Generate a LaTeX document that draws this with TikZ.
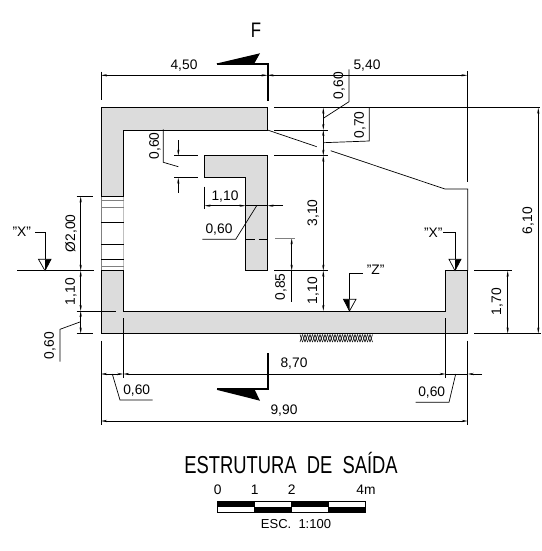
\documentclass[tikz,border=0pt]{standalone}
\usepackage{fontspec}
\setmainfont{Liberation Sans}
\newfontfamily\titlefont[FakeStretch=0.75]{Liberation Sans}
\newfontfamily\markfont[FakeStretch=0.8]{Liberation Sans}
\usetikzlibrary{arrows.meta}
\definecolor{concrete}{HTML}{DCDCDC}

\begin{document}
\begin{tikzpicture}
[every node/.style={inner sep=0pt, font=\fontsize{13.8}{15}\selectfont},
 wall/.style={line width=0.9pt, color=black},
 dim/.style={line width=0.6pt, color=black, {Stealth[length=6pt,width=2.2pt]}-{Stealth[length=6pt,width=2.2pt]}},
 dimend/.style={line width=0.6pt, color=black, -{Stealth[length=6pt,width=2.2pt]}},
 ext/.style={line width=0.7pt, color=black},
 cutline/.style={line width=2pt, color=black},
 turned/.style={rotate=90}]
\useasboundingbox (0pt, 0pt) rectangle (541pt, -551pt);
% concrete
\fill [concrete] (101pt, -107.5pt) -- (267.5pt, -107.5pt) -- (267.5pt, -130pt) -- (123.5pt, -130pt) -- (123.5pt, -196.5pt) -- (101pt, -196.5pt) -- cycle;
\fill [concrete] (101pt, -270.7pt) -- (123.5pt, -270.7pt) -- (123.5pt, -311pt) -- (445.7pt, -311pt) -- (445.7pt, -270.7pt) -- (467.7pt, -270.7pt) -- (467.7pt, -333.5pt) -- (101pt, -333.5pt) -- cycle;
\fill [concrete] (204.7pt, -155.7pt) -- (267.5pt, -155.7pt) -- (267.5pt, -270.7pt) -- (245.5pt, -270.7pt) -- (245.5pt, -177.7pt) -- (204.7pt, -177.7pt) -- cycle;
\draw [line width=0.5pt, color=gray] (101pt, -196.5pt) -- (101pt, -270.7pt);
\draw [line width=0.5pt, color=lightgray] (123.5pt, -196.5pt) -- (123.5pt, -270.7pt);
% walls
\draw [wall] (123.5pt, -196.5pt) -- (123.5pt, -130pt) -- (267.5pt, -130pt) -- (267.5pt, -107.5pt) -- (101pt, -107.5pt) -- (101pt, -196.5pt);
\draw [wall] (123.5pt, -270.7pt) -- (123.5pt, -311pt) -- (445.7pt, -311pt) -- (445.7pt, -270.7pt) -- (467.7pt, -270.7pt) -- (467.7pt, -333.5pt) -- (101pt, -333.5pt) -- (101pt, -270.7pt);
\draw [wall] (204.7pt, -155.7pt) -- (267.5pt, -155.7pt) -- (267.5pt, -270.7pt) -- (245.5pt, -270.7pt) -- (245.5pt, -177.7pt) -- (204.7pt, -177.7pt) -- cycle;
\draw [wall, dash pattern=on 9pt off 4pt] (245.5pt, -239pt) -- (267.5pt, -239pt);
% openings
\foreach \yy in {196.7, 222.3, 244.3, 259, 270.7}
  \draw [wall] (101pt, -\yy pt) -- (123.5pt, -\yy pt);
\foreach \yy in {200, 207.7, 266.7}
  \draw [line width=0.9pt, color=gray] (101pt, -\yy pt) -- (123.5pt, -\yy pt);
% channel lines on the right
\draw [wall] (274pt, -107.7pt) -- (540pt, -107.7pt);
\draw [wall] (274pt, -130pt) -- (327.7pt, -130pt);
\draw [wall] (274pt, -155.7pt) -- (327.7pt, -155.7pt);
\draw [ext] (267.5pt, -130pt) -- (316.7pt, -146.7pt);
\draw [ext] (330.7pt, -150.7pt) -- (445pt, -189pt) -- (467.7pt, -189pt) -- (467.7pt, -270.7pt);
% ground
\foreach \xx in {300, 302.5, ..., 371} {
  \draw [line width=0.6pt] (\xx pt, -342pt) -- (\xx pt + 2.5pt, -334.5pt);
  \draw [line width=0.6pt] (\xx pt, -334.5pt) -- (\xx pt + 2.5pt, -342pt);
}
% top dimensions
\draw [ext] (101pt, -71.7pt) -- (101pt, -100pt);
\draw [dim] (101pt, -75.3pt) -- (267.5pt, -75.3pt);
\draw [dim] (267.5pt, -75.3pt) -- (467.3pt, -75.3pt);
\draw [ext] (467.3pt, -71pt) -- (467.3pt, -181.7pt);
\node (dim450) at (184pt, -65.7pt) {4,50};
\node (dim540) at (367pt, -65.7pt) {5,40};
\draw [ext] (323.3pt, -118.3pt) -- (349pt, -101.7pt) -- (349pt, -69.3pt);
\node (dim060a) [turned] at (339.3pt, -85.7pt) {0,60};
\draw [ext] (323.3pt, -142.7pt) -- (369.3pt, -141pt) -- (369.3pt, -108pt);
\node (dim070) [turned] at (360pt, -125pt) {0,70};
% middle chain
\draw [dim] (323.3pt, -107.7pt) -- (323.3pt, -130pt);
\draw [dim] (323.3pt, -130pt) -- (323.3pt, -155.7pt);
\draw [dim] (323.3pt, -155.7pt) -- (323.3pt, -270.7pt);
\draw [dim] (323.3pt, -270.7pt) -- (323.3pt, -311pt);
\draw [ext] (274pt, -270.7pt) -- (327.7pt, -270.7pt);
\node (dim310) [turned] at (313.3pt, -213pt) {3,10};
\node (dim110a) [turned] at (313.3pt, -290.7pt) {1,10};
% baffle dimensions
\draw [dim] (291.7pt, -238.3pt) -- (291.7pt, -270.7pt);
\draw [ext] (291.7pt, -270.7pt) -- (291.7pt, -301.7pt);
\draw [line width=0.9pt, color=gray] (275pt, -238.3pt) -- (295pt, -238.3pt);
\node (dim085) [turned] at (281pt, -287pt) {0,85};
\draw [dimend] (178.3pt, -140pt) -- (178.3pt, -155.7pt);
\draw [dimend] (178.3pt, -192.7pt) -- (178.3pt, -177.7pt);
\draw [ext] (174pt, -155.7pt) -- (197.7pt, -155.7pt);
\draw [ext] (174pt, -177.7pt) -- (197.7pt, -177.7pt);
\draw [ext] (178.3pt, -166.7pt) -- (163.3pt, -162.3pt) -- (163.3pt, -129.3pt);
\node (dim060b) [turned] at (155pt, -146pt) {0,60};
\draw [ext] (204.5pt, -186.7pt) -- (204.5pt, -209pt);
\draw [dim] (204.5pt, -205.7pt) -- (245.5pt, -205.7pt);
\draw [dimend] (283pt, -205.7pt) -- (267.5pt, -205.7pt);
\draw [ext] (245.5pt, -205.7pt) -- (267.5pt, -205.7pt);
\node (dim110b) at (225pt, -196.7pt) {1,10};
\draw [ext] (256.7pt, -205.7pt) -- (235.7pt, -239.3pt) -- (202.3pt, -239.3pt);
\node (dim060c) at (219pt, -229.3pt) {0,60};
% left dimensions
\draw [dim] (80.7pt, -196.5pt) -- (80.7pt, -270.7pt);
\draw [dim] (80.7pt, -270.7pt) -- (80.7pt, -311pt);
\draw [dim] (80.7pt, -311pt) -- (80.7pt, -333.5pt);
\draw [ext] (76.7pt, -196.5pt) -- (93pt, -196.5pt);
\draw [ext] (17.3pt, -270.7pt) -- (94.3pt, -270.7pt);
\draw [ext] (76.7pt, -311pt) -- (116pt, -311pt);
\draw [ext] (76.7pt, -333.5pt) -- (93pt, -333.5pt);
\draw [ext] (80.7pt, -321.7pt) -- (60pt, -329.3pt) -- (60pt, -361.7pt);
\node (dim200) [turned] at (71pt, -233.3pt) {Ø2,00};
\node (dim110c) [turned] at (71pt, -291.7pt) {1,10};
\node (dim060d) [turned] at (50pt, -345.7pt) {0,60};
% bottom dimensions
\draw [ext] (101pt, -340.7pt) -- (101pt, -425pt);
\draw [ext] (123.3pt, -318.3pt) -- (123.3pt, -378pt);
\draw [ext] (445.7pt, -318.3pt) -- (445.7pt, -378.3pt);
\draw [ext] (467.7pt, -340.7pt) -- (467.7pt, -425pt);
\draw [dim] (101pt, -374pt) -- (123.3pt, -374pt);
\draw [dim] (123.3pt, -374pt) -- (445.7pt, -374pt);
\draw [dimend] (482pt, -374pt) -- (467.7pt, -374pt);
\draw [ext] (445.7pt, -374pt) -- (467.7pt, -374pt);
\draw [dim] (101pt, -421pt) -- (467.7pt, -421pt);
\node (dim870) at (294pt, -364pt) {8,70};
\node (dim990) at (284pt, -411pt) {9,90};
\draw [ext] (112.3pt, -374pt) -- (120pt, -400pt) -- (152.7pt, -400pt);
\node (dim060e) at (136.7pt, -390.7pt) {0,60};
\draw [ext] (455.7pt, -374pt) -- (449pt, -402.3pt) -- (415.7pt, -402.3pt);
\node (dim060f) at (431.7pt, -392.7pt) {0,60};
% right dimensions
\draw [ext] (474pt, -270.7pt) -- (511.7pt, -270.7pt);
\draw [ext] (474pt, -333.5pt) -- (541pt, -333.5pt);
\draw [dim] (507.7pt, -270.7pt) -- (507.7pt, -333.5pt);
\draw [dim] (538.3pt, -107.7pt) -- (538.3pt, -333.5pt);
\node (dim170) [turned] at (497.3pt, -301.7pt) {1,70};
\node (dim610) [turned] at (528.3pt, -220.7pt) {6,10};
% section F
\node (secF) at (256pt, -30.5pt) {\markfont\fontsize{21}{24}\selectfont F};
\draw [cutline] (216.7pt, -64pt) -- (267.5pt, -64pt) -- (267.5pt, -100.7pt);
\fill (216.7pt, -63.5pt) -- (260pt, -53.3pt) -- (254pt, -64pt) -- cycle;
\draw [cutline] (267.5pt, -353.3pt) -- (267.5pt, -389.3pt) -- (216.7pt, -389.3pt);
\fill (216.7pt, -389.8pt) -- (260pt, -400.7pt) -- (254.5pt, -389.3pt) -- cycle;
% level marks
\node (markXa) at (21.7pt, -231.7pt) {"X"};
\draw [ext] (35pt, -232pt) -- (45pt, -232pt) -- (45pt, -259.3pt);
\draw [ext, fill=white] (38.5pt, -259.3pt) -- (51pt, -259.3pt) -- (45pt, -270.7pt) -- cycle;
\fill (45pt, -259.3pt) -- (51pt, -259.3pt) -- (45pt, -270.7pt) -- cycle;
\node (markXb) at (433.3pt, -232.3pt) {"X"};
\draw [ext] (443.3pt, -232.3pt) -- (455pt, -232.3pt) -- (455pt, -259.3pt);
\draw [ext, fill=white] (449pt, -259.3pt) -- (461pt, -259.3pt) -- (455pt, -270.7pt) -- cycle;
\fill (455pt, -259.3pt) -- (461pt, -259.3pt) -- (455pt, -270.7pt) -- cycle;
\node (markZ) at (375.7pt, -270pt) {"Z"};
\draw [ext] (362.7pt, -273.3pt) -- (349.3pt, -273.3pt) -- (349.3pt, -299.3pt);
\draw [ext, fill=white] (343.5pt, -299.3pt) -- (356pt, -299.3pt) -- (349.5pt, -311pt) -- cycle;
\fill (343.5pt, -299.3pt) -- (349.5pt, -299.3pt) -- (349.5pt, -311pt) -- cycle;
% title and scale
\node (title) at (291pt, -463.3pt) {\titlefont\fontsize{24.5}{26}\selectfont ESTRUTURA\ \ DE\ \ SAÍDA};
\foreach \xa/\xb/\yt in {217.7/254.7/501, 254.7/291.7/506.7, 291.7/328.7/501, 328.7/365.7/506.7}
  \fill (\xa pt, -\yt pt) rectangle (\xb pt, -\yt pt - 5.5pt);
\draw [line width=0.6pt] (217.7pt, -501pt) rectangle (365.7pt, -512pt);
\foreach \xa in {254.7, 291.7, 328.7}
  \draw [line width=0.6pt] (\xa pt, -501pt) -- (\xa pt, -512pt);
\node (scale0) at (217.7pt, -490pt) {0};
\node (scale1) at (254.7pt, -490pt) {1};
\node (scale2) at (291.7pt, -490pt) {2};
\node (scale4) at (366pt, -490pt) {4m};
\node (scalenote) at (296pt, -524pt) {\fontsize{13}{15}\selectfont ESC.\ \ 1:100};
\end{tikzpicture}
\end{document}
